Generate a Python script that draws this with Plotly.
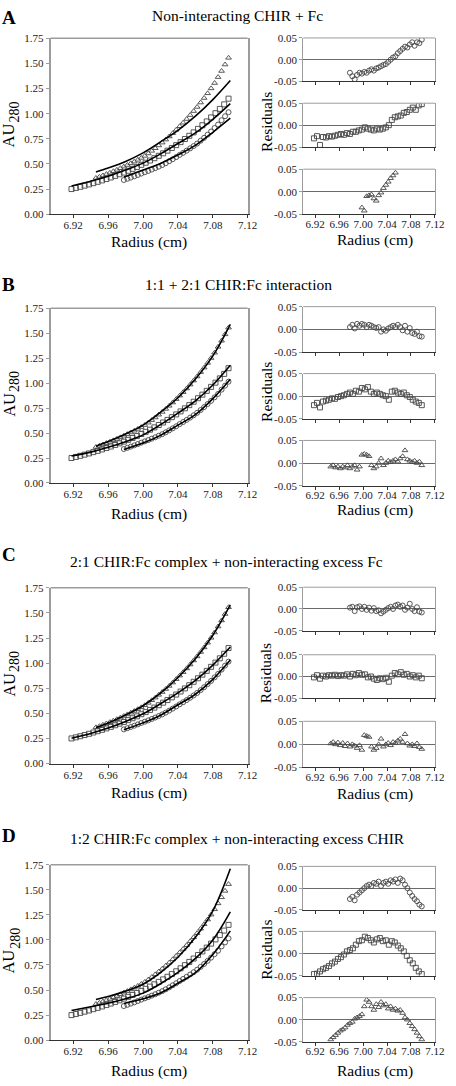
import plotly.graph_objects as go

W, H = 456, 1086
FONT = "Liberation Serif"

# ---------------- data ----------------
panel_letters = ["A", "B", "C", "D"]
panel_titles = [
    "Non-interacting CHIR + Fc",
    "1:1 + 2:1 CHIR:Fc interaction",
    "2:1 CHIR:Fc complex + non-interacting excess Fc",
    "1:2 CHIR:Fc complex + non-interacting excess CHIR",
]
x_ticks = [6.92, 6.96, 7.00, 7.04, 7.08, 7.12]
x_ticktext = ["6.92", "6.96", "7.00", "7.04", "7.08", "7.12"]
y_ticks = [0.0, 0.25, 0.5, 0.75, 1.0, 1.25, 1.5, 1.75]
y_ticktext = ["0.00", "0.25", "0.50", "0.75", "1.00", "1.25", "1.50", "1.75"]
res_ticks = [-0.05, 0.0, 0.05]
res_ticktext = ["-0.05", "0.00", "0.05"]

# radii (cm) of the three scans
r_circ = [6.978, 6.982, 6.986, 6.990, 6.994, 6.998, 7.002, 7.006, 7.010, 7.014, 7.018,
          7.022, 7.026, 7.030, 7.034, 7.038, 7.042, 7.046, 7.050, 7.054, 7.058, 7.062,
          7.066, 7.070, 7.074, 7.078, 7.082, 7.086, 7.090, 7.094, 7.098]
r_sq = [6.918, 6.923, 6.928, 6.933, 6.938, 6.943, 6.948, 6.953, 6.958, 6.963, 6.968,
        6.973, 6.978, 6.983, 6.988, 6.993, 6.998, 7.003, 7.008, 7.013, 7.018, 7.023,
        7.028, 7.033, 7.038, 7.043, 7.048, 7.053, 7.058, 7.063, 7.068, 7.073, 7.078,
        7.083, 7.088, 7.093, 7.098]
r_tri = [6.946, 6.950, 6.954, 6.958, 6.962, 6.966, 6.970, 6.974, 6.978, 6.982, 6.986,
         6.990, 6.994, 6.998, 7.002, 7.006, 7.010, 7.014, 7.018, 7.022, 7.026, 7.030,
         7.034, 7.038, 7.042, 7.046, 7.050, 7.054, 7.058, 7.062, 7.066, 7.070, 7.074,
         7.078, 7.082, 7.086, 7.090, 7.094, 7.098]

# absorbance at 280 nm
a_circ = [0.340, 0.352, 0.364, 0.377, 0.390, 0.404, 0.417, 0.430, 0.444, 0.458, 0.473,
          0.489, 0.507, 0.527, 0.547, 0.568, 0.590, 0.611, 0.632, 0.655, 0.678, 0.703,
          0.731, 0.760, 0.791, 0.823, 0.858, 0.892, 0.935, 0.975, 1.015]
a_sq = [0.250, 0.261, 0.272, 0.284, 0.296, 0.309, 0.322, 0.336, 0.350, 0.365, 0.381,
        0.397, 0.414, 0.432, 0.451, 0.470, 0.491, 0.512, 0.534, 0.557, 0.581, 0.606,
        0.632, 0.659, 0.687, 0.717, 0.748, 0.780, 0.814, 0.849, 0.885, 0.923, 0.963,
        1.005, 1.048, 1.093, 1.150]
a_tri = [0.360, 0.372, 0.385, 0.399, 0.412, 0.427, 0.441, 0.457, 0.473, 0.489, 0.506,
         0.523, 0.541, 0.560, 0.580, 0.604, 0.630, 0.656, 0.684, 0.712, 0.742, 0.773,
         0.806, 0.840, 0.875, 0.910, 0.947, 0.986, 1.026, 1.067, 1.111, 1.156, 1.203,
         1.252, 1.305, 1.364, 1.425, 1.489, 1.556]

# fitted curves (radius anchors + values per panel)
fit_r_circ = [6.978, 7.00, 7.02, 7.04, 7.06, 7.08, 7.10]
fit_r_sq = [6.918, 6.94, 6.96, 6.98, 7.00, 7.02, 7.04, 7.06, 7.08, 7.10]
fit_r_tri = [6.946, 6.96, 6.98, 7.00, 7.02, 7.04, 7.06, 7.08, 7.10]

fitA_circ = [0.370, 0.440, 0.505, 0.590, 0.685, 0.815, 0.955]
fitA_sq = [0.280, 0.327, 0.377, 0.440, 0.508, 0.600, 0.703, 0.809, 0.944, 1.100]
fitA_tri = [0.420, 0.460, 0.525, 0.610, 0.720, 0.835, 0.975, 1.140, 1.330]

fitB_circ = [0.335, 0.400, 0.477, 0.579, 0.685, 0.845, 1.040]
fitB_sq = [0.270, 0.309, 0.357, 0.414, 0.482, 0.584, 0.700, 0.823, 0.982, 1.180]
fitB_tri = [0.368, 0.415, 0.491, 0.580, 0.708, 0.854, 1.041, 1.273, 1.590]

fitC_circ = [0.337, 0.405, 0.481, 0.585, 0.690, 0.838, 1.030]
fitC_sq = [0.252, 0.300, 0.353, 0.419, 0.495, 0.595, 0.703, 0.827, 0.980, 1.160]
fitC_tri = [0.358, 0.403, 0.483, 0.575, 0.700, 0.857, 1.044, 1.278, 1.580]

fitD_circ = [0.365, 0.412, 0.470, 0.567, 0.673, 0.854, 1.090]
fitD_sq = [0.296, 0.334, 0.368, 0.413, 0.469, 0.563, 0.675, 0.815, 1.000, 1.280]
fitD_tri = [0.405, 0.435, 0.489, 0.558, 0.673, 0.827, 1.026, 1.290, 1.710]

# residuals
resA_circ = [-0.030, -0.038, -0.045, -0.035, -0.030, -0.032, -0.028, -0.030, -0.025, -0.022, -0.025,
             -0.020, -0.018, -0.015, -0.012, -0.010, -0.005, 0.000, 0.005, 0.008, 0.015, 0.020,
             0.025, 0.030, 0.028, 0.035, 0.040, 0.032, 0.040, 0.038, 0.046]
resA_sq = [-0.030, -0.025, -0.045, -0.027, -0.028, -0.025, -0.026, -0.024, -0.022, -0.020, -0.022,
           -0.018, -0.020, -0.015, -0.015, -0.012, -0.010, -0.005, -0.008, -0.010, -0.012, -0.008,
           -0.010, -0.008, -0.005, 0.000, 0.012, 0.018, 0.020, 0.022, 0.028, 0.030, 0.035,
           0.040, 0.035, 0.045, 0.048]
resA_tri = [None, None, None, None, None, None, None, None, None, None, None,
            None, None, -0.035, -0.042, -0.010, -0.008, -0.006, -0.015, -0.020, -0.008, -0.002,
            0.008, 0.015, 0.022, 0.030, 0.036, 0.042, None, None, None, None, None,
            None, None, None, None, None, None]

resB_circ = [0.005, 0.010, 0.002, 0.012, 0.008, 0.012, 0.010, 0.005, 0.010, 0.008, 0.005,
             0.003, 0.005, -0.005, 0.000, -0.003, 0.002, 0.005, 0.008, 0.005, 0.010, 0.005,
             -0.002, 0.008, -0.005, 0.003, -0.008, -0.010, -0.005, -0.015, -0.016]
resB_sq = [-0.020, -0.015, -0.025, -0.012, -0.010, -0.008, -0.005, -0.006, -0.002, 0.000, 0.002,
           0.005, 0.008, 0.005, 0.012, 0.010, 0.018, 0.015, 0.020, 0.010, 0.005, 0.008,
           0.005, 0.002, 0.000, -0.008, 0.010, 0.012, 0.008, 0.005, 0.008, 0.002, -0.002,
           -0.008, -0.012, -0.015, -0.020]
resB_tri = [-0.008, -0.005, -0.010, -0.008, -0.012, -0.008, -0.010, -0.005, -0.012, -0.008, -0.005,
            -0.015, -0.008, 0.018, 0.020, 0.018, 0.015, -0.005, -0.012, -0.008, 0.000, 0.010,
            -0.005, 0.000, 0.005, 0.002, 0.005, 0.008, 0.003, 0.010, 0.015, 0.028, 0.008,
            0.005, 0.002, 0.005, 0.000, 0.003, -0.005]

resC_circ = [0.003, 0.005, -0.005, 0.004, 0.006, 0.000, 0.005, -0.002, 0.003, -0.004, 0.002,
             -0.005, -0.003, -0.010, -0.006, -0.002, 0.002, 0.005, 0.000, 0.008, 0.010, 0.005,
             0.008, -0.002, 0.003, 0.012, 0.000, -0.005, 0.004, -0.006, -0.008]
resC_sq = [-0.002, 0.003, -0.005, 0.002, 0.000, 0.003, 0.002, 0.004, 0.001, 0.003, 0.002,
           0.005, 0.000, 0.006, 0.003, 0.008, 0.004, 0.005, -0.002, 0.000, -0.005, -0.008,
           -0.004, -0.006, -0.003, -0.012, 0.002, 0.008, 0.005, 0.010, 0.004, 0.006, 0.000,
           0.003, -0.002, 0.002, -0.004]
resC_tri = [0.002, 0.005, 0.000, 0.004, -0.002, 0.003, -0.004, 0.002, -0.005, 0.000, -0.003,
            -0.008, -0.002, -0.012, 0.020, 0.018, 0.016, -0.005, -0.012, -0.008, 0.000, 0.012,
            -0.005, 0.000, 0.003, -0.002, 0.005, 0.003, 0.008, 0.012, 0.005, 0.022, 0.002,
            -0.003, 0.000, -0.004, 0.002, -0.006, -0.010]

resD_circ = [-0.025, -0.020, -0.028, -0.015, -0.010, -0.005, 0.000, 0.005, 0.008, 0.005, 0.012,
             0.010, 0.015, 0.005, 0.012, 0.015, 0.010, 0.018, 0.015, 0.020, 0.012, 0.022,
             0.018, 0.008, 0.000, -0.010, -0.018, -0.025, -0.030, -0.038, -0.042]
resD_sq = [-0.046, -0.045, -0.040, -0.035, -0.032, -0.028, -0.022, -0.018, -0.012, -0.008, -0.002,
           0.005, 0.008, 0.012, 0.020, 0.028, 0.030, 0.038, 0.035, 0.030, 0.025, 0.032,
           0.035, 0.028, 0.030, 0.020, 0.028, 0.025, 0.018, 0.012, 0.005, -0.005, -0.015,
           -0.022, -0.032, -0.040, -0.046]
resD_tri = [-0.045, -0.040, -0.035, -0.030, -0.025, -0.022, -0.018, -0.012, -0.008, -0.005, 0.002,
            0.005, 0.008, 0.012, 0.030, 0.045, 0.040, 0.030, 0.022, 0.035, 0.028, 0.040,
            0.032, 0.035, 0.025, 0.030, 0.022, 0.025, 0.020, 0.022, 0.015, 0.005, 0.000,
            -0.008, -0.015, -0.022, -0.030, -0.038, -0.045]

fits = [
    (fitA_circ, fitA_sq, fitA_tri),
    (fitB_circ, fitB_sq, fitB_tri),
    (fitC_circ, fitC_sq, fitC_tri),
    (fitD_circ, fitD_sq, fitD_tri),
]
residuals = [
    (resA_circ, resA_sq, resA_tri),
    (resB_circ, resB_sq, resB_tri),
    (resC_circ, resC_sq, resC_tri),
    (resD_circ, resD_sq, resD_tri),
]

# ---------------- layout geometry (pixels) ----------------
MAIN_X = (51.7, 253.3)
RES_X = (310.0, 444.7)
MAIN_Y = [(32.7, 210.5), (305.7, 482.3), (588.3, 766.0), (868.3, 1045.7)]
RES_Y = [
    [(32.3, 76.3), (98.3, 142.7), (165.0, 210.7)],
    [(304.0, 350.0), (371.7, 417.3), (439.3, 485.0)],
    [(587.7, 631.7), (656.0, 700.0), (723.3, 770.0)],
    [(870.0, 914.0), (935.7, 980.7), (1002.7, 1047.3)],
]
LETTER_Y = [11.7, 281.7, 555.0, 839.0]
TITLE_Y = [10.0, 282.0, 562.0, 842.0]
TITLE_X = [243.0, 244.0, 232.0, 242.5]
MAIN_RAD_Y = [239.0, 513.5, 795.5, 1076.7]
RES_RAD_Y = [236.5, 510.0, 797.0, 1076.7]


def fx(p):
    return p / W


def fy(p):
    return 1 - p / H


def ydom(top, bot):
    return [fy(bot), fy(top)]


symbols = ["circle-open", "square-open", "triangle-up-open"]
radii = [r_circ, r_sq, r_tri]
absorb = [a_circ, a_sq, a_tri]
fit_radii = [fit_r_circ, fit_r_sq, fit_r_tri]

MARK_COL = "#454545"
FRAME = "#9c9c9c"
AXCOL = "#333333"
tickfont = dict(family=FONT, size=11, color="#1a1a1a")

fig = go.Figure()
layout = {}
shapes = []
annotations = []

for p in range(4):
    n = 4 * p + 1
    xs = "x" if n == 1 else f"x{n}"
    ys = "y" if n == 1 else f"y{n}"
    xk = "xaxis" if n == 1 else f"xaxis{n}"
    yk = "yaxis" if n == 1 else f"yaxis{n}"
    top, bot = MAIN_Y[p]
    layout[xk] = dict(domain=[fx(MAIN_X[0]), fx(MAIN_X[1])], range=[6.894, 7.12], anchor=ys,
                      tickvals=x_ticks, ticktext=x_ticktext, showgrid=False, zeroline=False,
                      showline=True, linecolor=AXCOL, linewidth=1, ticks="outside", ticklen=3,
                      tickcolor=AXCOL, tickfont=tickfont, ticklabelstandoff=-2)
    layout[yk] = dict(domain=ydom(top, bot), range=[0, 1.75], anchor=xs,
                      tickvals=y_ticks, ticktext=y_ticktext, showgrid=False, zeroline=False,
                      showline=True, mirror=True, linecolor=FRAME, linewidth=1.5, ticks="outside",
                      ticklen=3, tickcolor=FRAME, tickfont=tickfont)
    shapes.append(dict(type="line", xref="paper", yref="paper", x0=fx(MAIN_X[0]), x1=fx(MAIN_X[1]),
                       y0=fy(top), y1=fy(top), line=dict(color=FRAME, width=1.5)))
    for k in range(3):
        fig.add_trace(go.Scatter(x=radii[k], y=absorb[k], mode="markers", xaxis=xs, yaxis=ys,
                                 marker=dict(symbol=symbols[k], size=5, color=MARK_COL,
                                             line=dict(width=0.9)),
                                 showlegend=False, hoverinfo="skip"))
    for k in range(3):
        fig.add_trace(go.Scatter(x=fit_radii[k], y=fits[p][k], mode="lines", xaxis=xs, yaxis=ys,
                                 line=dict(color="black", width=1.6, shape="spline"),
                                 showlegend=False, hoverinfo="skip"))

    for k in range(3):
        m = n + 1 + k
        xs = f"x{m}"
        ys = f"y{m}"
        xk = f"xaxis{m}"
        yk = f"yaxis{m}"
        rt, rb = RES_Y[p][k]
        layout[xk] = dict(domain=[fx(RES_X[0]), fx(RES_X[1])], range=[6.90, 7.12], anchor=ys,
                          tickvals=x_ticks, ticktext=x_ticktext, showgrid=False, zeroline=False,
                          showline=True, linecolor=AXCOL, linewidth=1, ticks="outside",
                          ticklen=3, tickcolor=AXCOL, tickfont=tickfont,
                          showticklabels=(k == 2), ticklabelstandoff=-4)
        layout[yk] = dict(domain=ydom(rt, rb), range=[-0.05, 0.05], anchor=xs,
                          tickvals=res_ticks, ticktext=res_ticktext, showgrid=False,
                          zeroline=True, zerolinecolor="#6a6a6a", zerolinewidth=1,
                          showline=True, mirror=True, linecolor=FRAME, linewidth=1,
                          ticks="outside", ticklen=3, tickcolor=FRAME, tickfont=tickfont)
        shapes.append(dict(type="line", xref="paper", yref="paper", x0=fx(RES_X[0]), x1=fx(RES_X[1]),
                           y0=fy(rt), y1=fy(rt), line=dict(color=FRAME, width=1)))
        fig.add_trace(go.Scatter(x=radii[k], y=residuals[p][k], mode="markers", xaxis=xs, yaxis=ys,
                                 marker=dict(symbol=symbols[k], size=5, color=MARK_COL,
                                             line=dict(width=0.9)),
                                 showlegend=False, hoverinfo="skip"))

    # texts
    annotations.append(dict(text="<b>%s</b>" % panel_letters[p], x=fx(9), y=fy(LETTER_Y[p]),
                            xref="paper", yref="paper", showarrow=False,
                            font=dict(family=FONT, size=19, color="black"),
                            xanchor="center", yanchor="middle"))
    annotations.append(dict(text=panel_titles[p], x=fx(TITLE_X[p]), y=fy(TITLE_Y[p]),
                            xref="paper", yref="paper", showarrow=False,
                            font=dict(family=FONT, size=15.5, color="black"),
                            xanchor="center", yanchor="middle"))
    mid = (top + bot) / 2
    annotations.append(dict(text="AU", x=fx(9), y=fy(mid + 9.5), xref="paper", yref="paper",
                            showarrow=False, textangle=-90,
                            font=dict(family=FONT, size=16.5, color="black"),
                            xanchor="center", yanchor="middle"))
    annotations.append(dict(text="280", x=fx(15), y=fy(mid - 14.5), xref="paper", yref="paper",
                            showarrow=False, textangle=-90,
                            font=dict(family=FONT, size=14, color="black"),
                            xanchor="center", yanchor="middle"))
    rmid = (RES_Y[p][0][0] + RES_Y[p][2][1]) / 2
    annotations.append(dict(text="Residuals", x=fx(271.7), y=fy(rmid - 4), xref="paper",
                            yref="paper", showarrow=False, textangle=-90,
                            font=dict(family=FONT, size=15.5, color="black"),
                            xanchor="center", yanchor="middle"))
    annotations.append(dict(text="Radius (cm)", x=fx(152.5), y=fy(MAIN_RAD_Y[p]), xref="paper",
                            yref="paper", showarrow=False,
                            font=dict(family=FONT, size=15.5, color="black"),
                            xanchor="center", yanchor="middle"))
    annotations.append(dict(text="Radius (cm)", x=fx(383.0), y=fy(RES_RAD_Y[p]), xref="paper",
                            yref="paper", showarrow=False,
                            font=dict(family=FONT, size=15.5, color="black"),
                            xanchor="center", yanchor="middle"))

fig.update_layout(**layout)
fig.update_layout(width=W, height=H, margin=dict(l=0, r=0, t=0, b=0),
                  paper_bgcolor="white", plot_bgcolor="white", showlegend=False,
                  shapes=shapes, annotations=annotations,
                  font=dict(family=FONT, color="black"))

fig.write_html("out.html", config={"displayModeBar": False},
               post_script="document.body.style.margin='0';document.body.style.overflow='hidden';")
